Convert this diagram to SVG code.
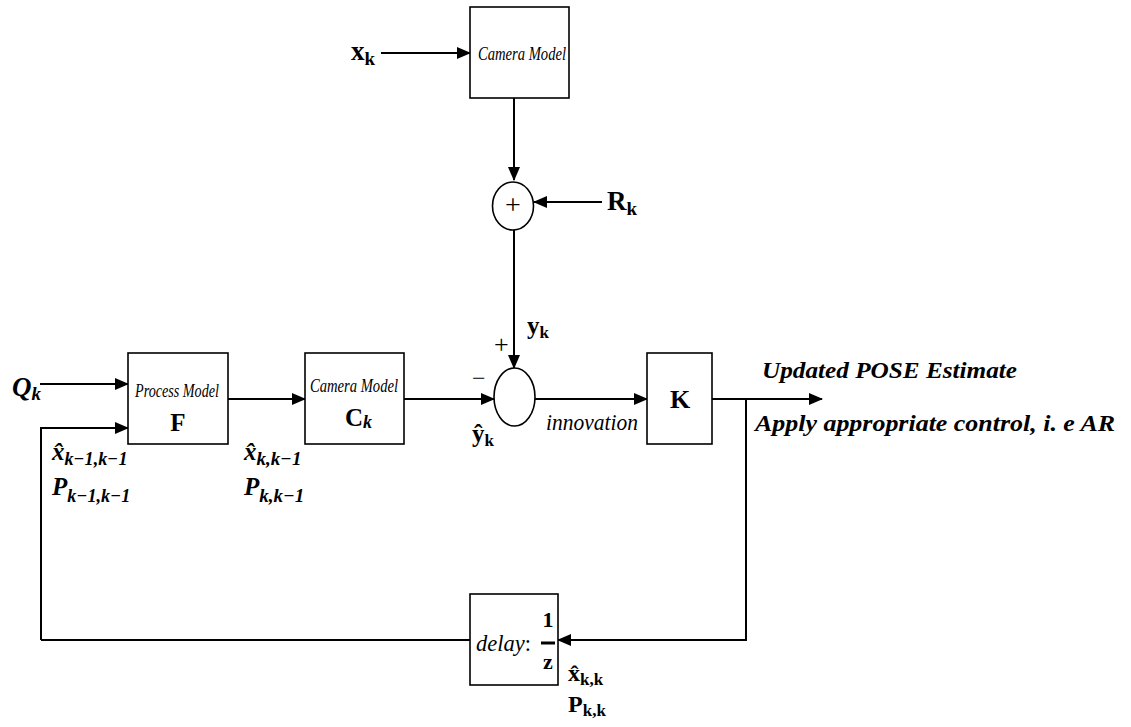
<svg xmlns="http://www.w3.org/2000/svg" width="1131" height="727" viewBox="0 0 1131 727">
<style>
.box{fill:#fff;stroke:#000;stroke-width:1.6}
.ln{fill:none;stroke:#000;stroke-width:2}
.t{font-family:"Liberation Serif","DejaVu Serif",serif;fill:#000}
.b{font-weight:bold}
.i{font-style:italic}
.cm{font-family:"Liberation Serif",serif;font-style:italic;font-size:19px}
</style>
<defs>
<marker id="ah" markerUnits="userSpaceOnUse" markerWidth="14" markerHeight="12" refX="13" refY="6" orient="auto">
<path d="M0,0 L14,6 L0,12 Z" fill="#000"/>
</marker>
</defs>
<rect width="1131" height="727" fill="#fff"/>
<g id="connectors">
<line class="ln" x1="381" y1="53" x2="470" y2="53" marker-end="url(#ah)"/>
<line class="ln" x1="514" y1="98" x2="514" y2="180" marker-end="url(#ah)"/>
<line class="ln" x1="602" y1="202" x2="534" y2="202" marker-end="url(#ah)"/>
<line class="ln" x1="514" y1="230" x2="514" y2="368" marker-end="url(#ah)"/>
<line class="ln" x1="40" y1="384" x2="128" y2="384" marker-end="url(#ah)"/>
<polyline class="ln" points="41,640 41,428 128,428" marker-end="url(#ah)"/>
<line class="ln" x1="228" y1="399" x2="305" y2="399" marker-end="url(#ah)"/>
<line class="ln" x1="404" y1="399" x2="494" y2="399" marker-end="url(#ah)"/>
<line class="ln" x1="535" y1="399" x2="647" y2="399" marker-end="url(#ah)"/>
<line class="ln" x1="712" y1="399" x2="822" y2="399" marker-end="url(#ah)"/>
<polyline class="ln" points="746,399 746,640 558,640" marker-end="url(#ah)"/>
<line class="ln" x1="41" y1="640" x2="470" y2="640"/>
</g>
<g id="camera-top">
<rect class="box" x="470" y="7" width="99" height="91"/>
<text class="t cm" x="478" y="60" textLength="88" lengthAdjust="spacingAndGlyphs">Camera Model</text>
</g>
<g id="sum-top">
<ellipse class="box" cx="513" cy="206" rx="20.5" ry="24"/>
<text class="t" x="513" y="214" font-size="28" text-anchor="middle">+</text>
</g>
<g id="sum-main">
<ellipse class="box" cx="514.5" cy="397" rx="20.5" ry="29"/>
</g>
<g id="process-model">
<rect class="box" x="128" y="353" width="100" height="91"/>
<text class="t cm" x="135" y="397" textLength="84" lengthAdjust="spacingAndGlyphs">Process Model</text>
<text class="t b" x="178" y="431" font-size="25" text-anchor="middle">F</text>
</g>
<g id="camera-ck">
<rect class="box" x="305" y="353" width="99" height="91"/>
<text class="t cm" x="310" y="392" textLength="88" lengthAdjust="spacingAndGlyphs">Camera Model</text>
<text class="t b" x="345" y="426" font-size="25">C<tspan class="i" font-size="18" dy="2">k</tspan></text>
</g>
<g id="gain-k">
<rect class="box" x="647" y="353" width="65" height="91"/>
<text class="t b" x="680" y="408" font-size="26" text-anchor="middle">K</text>
</g>
<g id="delay">
<rect class="box" x="470" y="594" width="88" height="91"/>
<text class="t i" x="476" y="651" font-size="23" textLength="55" lengthAdjust="spacingAndGlyphs">delay<tspan font-style="normal">:</tspan></text>
<text class="t b" x="548" y="627" font-size="22" text-anchor="middle">1</text>
<line x1="541" y1="643" x2="555" y2="643" stroke="#000" stroke-width="3"/>
<text class="t b" x="548" y="669" font-size="22" text-anchor="middle">z</text>
</g>
<g id="labels">
<text class="t b" x="351" y="60" font-size="27">x<tspan font-size="19" dy="5">k</tspan></text>
<text class="t b" x="607" y="210" font-size="27">R<tspan font-size="19" dy="5">k</tspan></text>
<text class="t b" x="527" y="334" font-size="25">y<tspan font-size="17" dy="4">k</tspan></text>
<text class="t" x="494" y="353" font-size="26">+</text>
<text class="t" x="472" y="386" font-size="24">−</text>
<text class="t b" x="472" y="442" font-size="25">ŷ<tspan font-size="17" dy="4">k</tspan></text>
<text class="t i" x="546" y="430" font-size="23" textLength="92" lengthAdjust="spacingAndGlyphs">innovation</text>
<text class="t b i" x="12" y="396" font-size="27">Q<tspan font-size="19" dy="4">k</tspan></text>
<text class="t b i" x="52" y="460" font-size="25">x̂<tspan font-size="19" dy="5" textLength="63" lengthAdjust="spacingAndGlyphs">k−1,k−1</tspan></text>
<text class="t b i" x="52" y="495" font-size="25">P<tspan font-size="19" dy="7" textLength="63" lengthAdjust="spacingAndGlyphs">k−1,k−1</tspan></text>
<text class="t b i" x="244" y="460" font-size="25">x̂<tspan font-size="19" dy="5" textLength="45" lengthAdjust="spacingAndGlyphs">k,k−1</tspan></text>
<text class="t b i" x="244" y="495" font-size="25">P<tspan font-size="19" dy="7" textLength="45" lengthAdjust="spacingAndGlyphs">k,k−1</tspan></text>
<text class="t b i" x="762" y="378" font-size="24" textLength="255" lengthAdjust="spacingAndGlyphs">Updated POSE Estimate</text>
<text class="t b i" x="755" y="431" font-size="24" textLength="360" lengthAdjust="spacingAndGlyphs">Apply appropriate control, i. e AR</text>
<text class="t b" x="568" y="681" font-size="24">x̂<tspan font-size="17" dy="4">k,k</tspan></text>
<text class="t b" x="568" y="712" font-size="24">P<tspan font-size="17" dy="4">k,k</tspan></text>
</g>
</svg>
